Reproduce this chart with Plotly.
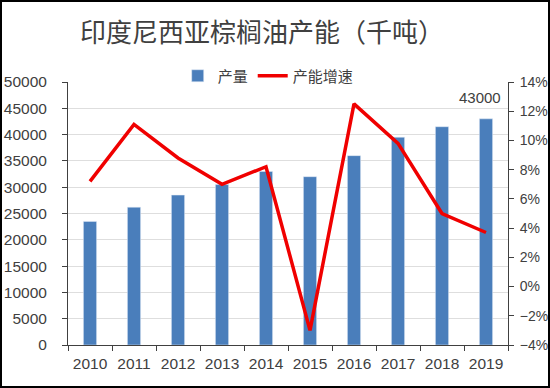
import plotly.graph_objects as go

years = ["2010", "2011", "2012", "2013", "2014", "2015", "2016", "2017", "2018", "2019"]
output = [23500, 26200, 28500, 30500, 33000, 32000, 36000, 39500, 41500, 43000]
growth = [7.2, 11.1, 8.8, 7.0, 8.2, -3.0, 12.5, 9.8, 5.0, 3.7]
label_text = "43000"

W, H = 550, 388
ml, mr, mt, mb = 68, 42, 82, 43
pw, ph = W - ml - mr, H - mt - mb

fig = go.Figure()
fig.add_trace(go.Bar(
    x=years, y=output, name="产量", marker_color="#4A7EBB",
))
fig.add_trace(go.Scatter(
    x=years, y=growth, name="产能增速", yaxis="y2", mode="lines",
    line=dict(color="#F00000", width=3.5),
))
fig.add_annotation(x=len(years) - 1, y=output[-1], xref="x", yref="y", text=label_text,
                   showarrow=False, yanchor="bottom", xanchor="center", xshift=-6, yshift=11,
                   font=dict(size=15, color="#404040", family="Liberation Sans"))

tickfont = dict(size=14, color="#404040", family="Liberation Sans")
fig.update_layout(
    width=W, height=H, autosize=False,
    margin=dict(l=ml, r=mr, t=mt, b=mb, autoexpand=False),
    paper_bgcolor="white", plot_bgcolor="white",
    bargap=0.7,
    showlegend=True,
    title=dict(text="印度尼西亚棕榈油产能（千吨）", x=262 / W, xref="container", xanchor="center",
               y=1 - 33 / H, yanchor="middle",
               font=dict(size=26, color="#404040", family="Noto Sans CJK SC")),
    legend=dict(orientation="h", x=0.455, xanchor="center", y=1 + 6 / ph, yanchor="middle",
                font=dict(size=15, color="#404040", family="Noto Sans CJK SC"),
                bgcolor="rgba(0,0,0,0)"),
    xaxis=dict(type="category", categoryorder="array", categoryarray=years,
               tickfont=dict(size=15.5, color="#404040", family="Liberation Sans"),
               tickangle=0, automargin=False, ticklabelstandoff=4,
               showline=True, linecolor="#404040", linewidth=1,
               ticks="outside", tickson="boundaries", ticklen=5, tickcolor="#404040",
               showgrid=False),
    yaxis=dict(range=[0, 50000], dtick=5000, tickformat="d", automargin=False, ticklabelstandoff=12,
               tickfont=dict(size=15.5, color="#404040", family="Liberation Sans"),
               showline=True, linecolor="#404040", linewidth=1,
               ticks="outside", ticklen=5, tickcolor="#404040",
               showgrid=True, gridcolor="#DEDEDE", zeroline=False),
    yaxis2=dict(range=[-4, 14], dtick=2, ticksuffix="%", overlaying="y", side="right",
                automargin=False, ticklabelstandoff=3,
                tickfont=tickfont, showline=True, linecolor="#404040", linewidth=1,
                ticks="outside", ticklen=5, tickcolor="#404040",
                showgrid=False, zeroline=False),
)

fig.add_shape(type="rect", xref="paper", yref="paper",
              x0=-(ml - 1) / pw, x1=1 + (mr - 1) / pw,
              y0=-(mb - 1) / ph, y1=1 + (mt - 1) / ph,
              line=dict(color="#000000", width=2), fillcolor="rgba(0,0,0,0)", layer="above")

fig.write_html("out.html", config={"responsive": False, "displayModeBar": False},
               post_script="document.body.style.margin='0';document.body.style.overflow='hidden';")
